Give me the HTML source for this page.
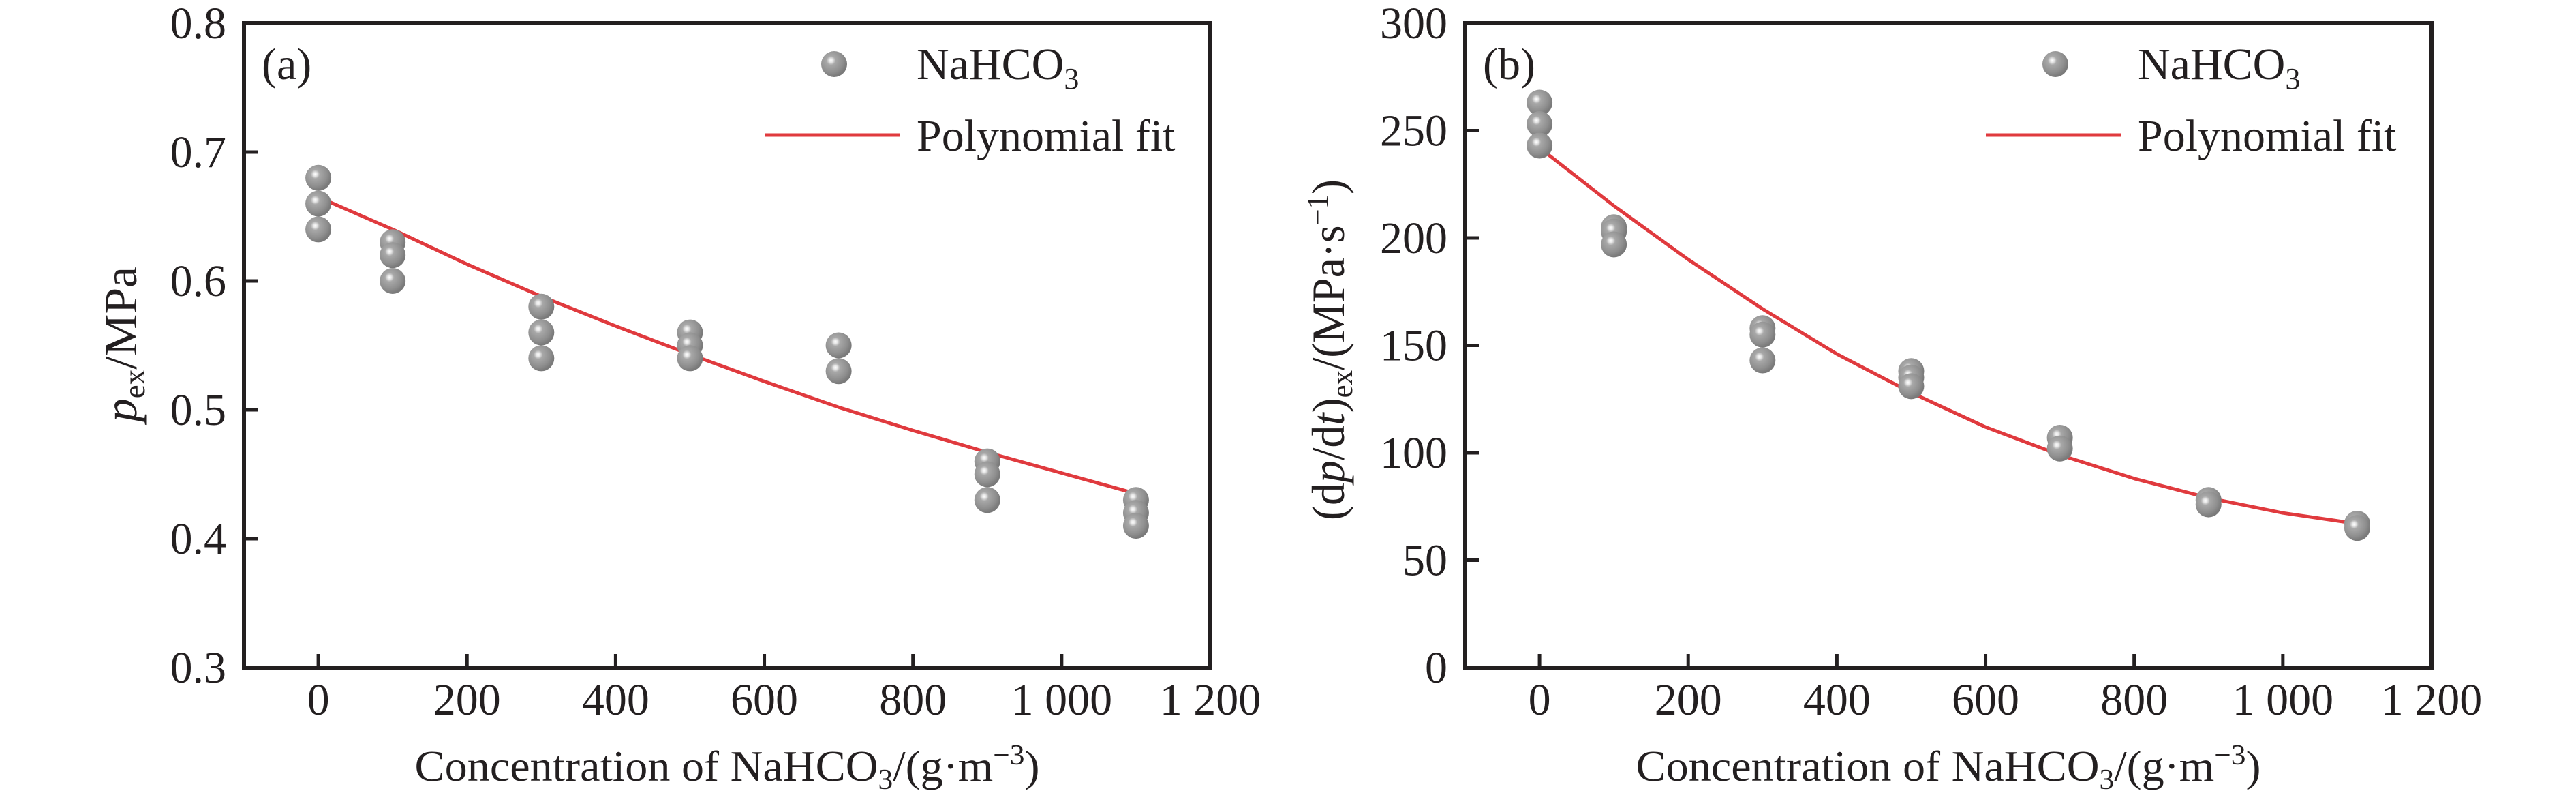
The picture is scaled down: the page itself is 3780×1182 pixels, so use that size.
<!DOCTYPE html>
<html><head><meta charset="utf-8">
<style>
html,body{margin:0;padding:0;background:#fff;}
svg{display:block;font-family:"Liberation Serif","Times New Roman",serif;}
</style></head>
<body>
<svg id="fig" width="3780" height="1182" viewBox="0 0 3780 1182" xmlns="http://www.w3.org/2000/svg">
<defs>
<radialGradient id="ball" cx="0.38" cy="0.36" r="0.62">
<stop offset="0" stop-color="#ffffff"/>
<stop offset="0.12" stop-color="#e6e6e6"/>
<stop offset="0.28" stop-color="#a8a8a8"/>
<stop offset="0.75" stop-color="#8e8e8e"/>
<stop offset="1" stop-color="#7a7a7a"/>
</radialGradient>
</defs>
</svg>
<script>
// Panel (a) data
const catsA = [0,0,0,100,100,100,300,300,300,500,500,500,700,700,900,900,900,1100,1100,1100];
const valsA = [0.68,0.66,0.64,0.63,0.62,0.60,0.58,0.56,0.54,0.56,0.55,0.54,0.55,0.53,0.46,0.45,0.43,0.43,0.42,0.41];
const fitXA = [0,100,200,300,400,500,600,700,800,900,1000,1100];
const fitYA = [0.665,0.640,0.613,0.588,0.565,0.543,0.522,0.502,0.484,0.467,0.451,0.435];
const yTicksA = [0.3,0.4,0.5,0.6,0.7,0.8];
const yTickLabelsA = ["0.3","0.4","0.5","0.6","0.7","0.8"];
// Panel (b) data
const catsB = [0,0,0,100,100,100,300,300,300,500,500,500,700,700,900,900,1100,1100];
const valsB = [263,253,243,205,203,197,158,155,143,138,135,131,107,102,78,76,67,65];
const fitXB = [0,100,200,300,400,500,600,700,800,900,1000,1100];
const fitYB = [242,215,190,167,146,128,112,99,88,79,72,67];
const yTicksB = [0,50,100,150,200,250,300];
const yTickLabelsB = ["0","50","100","150","200","250","300"];
// shared x axis
const xTicks = [0,200,400,600,800,1000,1200];
const xTickLabels = ["0","200","400","600","800","1 000","1 200"];

const NS = "http://www.w3.org/2000/svg";
const svg = document.getElementById('fig');
function mk(tag, attrs, parent){
  const e = document.createElementNS(NS, tag);
  for (const k in attrs) e.setAttribute(k, attrs[k]);
  (parent||svg).appendChild(e);
  return e;
}

function panel(cfg){
  const L=cfg.left, R=cfg.left+1418, T=34, B=979;
  const xs = v => L + (v - (-100)) / 1300 * (R - L);
  const ys = v => B - (v - cfg.ymin) / (cfg.ymax - cfg.ymin) * (B - T);
  const g = mk('g', {});
  
  

  // y ticks + labels
  cfg.yTicks.forEach((t,i)=>{
    const tk = mk('line',{x1:L,x2:L+20,y1:ys(t),y2:ys(t),stroke:'#231f20','stroke-width':5},g);
    
    
    const tx = mk('text',{x:L-26,y:ys(t)+22,'text-anchor':'end','font-size':66,fill:'#231f20'},g);
    tx.textContent = cfg.yLabels[i];
    
    
  });
  // x ticks + labels
  xTicks.forEach((t,i)=>{
    const tk = mk('line',{x1:xs(t),x2:xs(t),y1:B,y2:B-20,stroke:'#231f20','stroke-width':5},g);
    
    
    const tx = mk('text',{x:xs(t),y:1048,'text-anchor':'middle','font-size':66,fill:'#231f20'},g);
    tx.textContent = xTickLabels[i];
    
    
  });

  // fit line
  let d = '';
  cfg.fitX.forEach((x,i)=>{ d += (i?'L':'M') + xs(x).toFixed(1) + ' ' + ys(cfg.fitY[i]).toFixed(1) + ' '; });
  const fl = mk('path',{d:d,fill:'none',stroke:'#e03a3e','stroke-width':5,'stroke-linejoin':'round'},g);
  
  

  // points
  cfg.cats.forEach((c,i)=>{
    const p = mk('circle',{cx:xs(c),cy:ys(cfg.vals[i]),r:19,fill:'url(#ball)'},g);
    
    
  });

  // frame
  const fr = mk('rect',{x:L,y:T,width:R-L,height:B-T,fill:'none',stroke:'#231f20','stroke-width':6},g);
  
  

  // panel label
  const pl = mk('text',{x:L+26,y:116,'font-size':66,fill:'#231f20'},g);
  pl.textContent = cfg.tag;
  
  

  // legend
  const lm = mk('circle',{cx:L+866,cy:94,r:19,fill:'url(#ball)'},g);
  
  
  const lt = mk('text',{x:L+987,y:116,'font-size':66,fill:'#231f20'},g);
  lt.innerHTML = 'NaHCO<tspan font-size="44" dy="14">3</tspan>';
  
  
  const ll = mk('line',{x1:L+764,x2:L+963,y1:198,y2:198,stroke:'#e03a3e','stroke-width':5},g);
  
  
  const lt2 = mk('text',{x:L+987,y:221,'font-size':66,fill:'#231f20'},g);
  lt2.textContent = 'Polynomial fit';
  
  

  // x title
  const xt = mk('text',{x:(L+R)/2,y:1145,'text-anchor':'middle','font-size':64,fill:'#231f20',textLength:917,lengthAdjust:'spacingAndGlyphs'},g);
  xt.innerHTML = 'Concentration of NaHCO<tspan font-size="42" dy="12">3</tspan><tspan dy="-12">/(g·m</tspan><tspan font-size="42" dy="-24">−3</tspan><tspan dy="24">)</tspan>';
  
  

  // y title
  const yt = mk('text',{x:0,y:0,'text-anchor':'middle','font-size':68,fill:'#231f20',textLength:cfg.ytLen,lengthAdjust:'spacingAndGlyphs',transform:'translate('+cfg.ytX+','+cfg.ytY+') rotate(-90)'},g);
  yt.innerHTML = cfg.ytitle;
  
  
}

panel({name:'panel-a',left:358,ymin:0.3,ymax:0.8,yTicks:yTicksA,yLabels:yTickLabelsA,
  cats:catsA,vals:valsA,fitX:fitXA,fitY:fitYA,tag:'(a)',
  ytitle:'<tspan font-style="italic">p</tspan><tspan font-size="44" dy="12">ex</tspan><tspan dy="-12">/MPa</tspan>',
  ytLen:228,ytX:200,ytY:505});
panel({name:'panel-b',left:2150,ymin:0,ymax:300,yTicks:yTicksB,yLabels:yTickLabelsB,
  cats:catsB,vals:valsB,fitX:fitXB,fitY:fitYB,tag:'(b)',
  ytitle:'(d<tspan font-style="italic">p</tspan>/d<tspan font-style="italic">t</tspan>)<tspan font-size="44" dy="12">ex</tspan><tspan dy="-12">/(MPa·s</tspan><tspan font-size="44" dy="-24">−1</tspan><tspan dy="24">)</tspan>',
  ytLen:500,ytX:1972,ytY:513});
</script>
</body></html>
